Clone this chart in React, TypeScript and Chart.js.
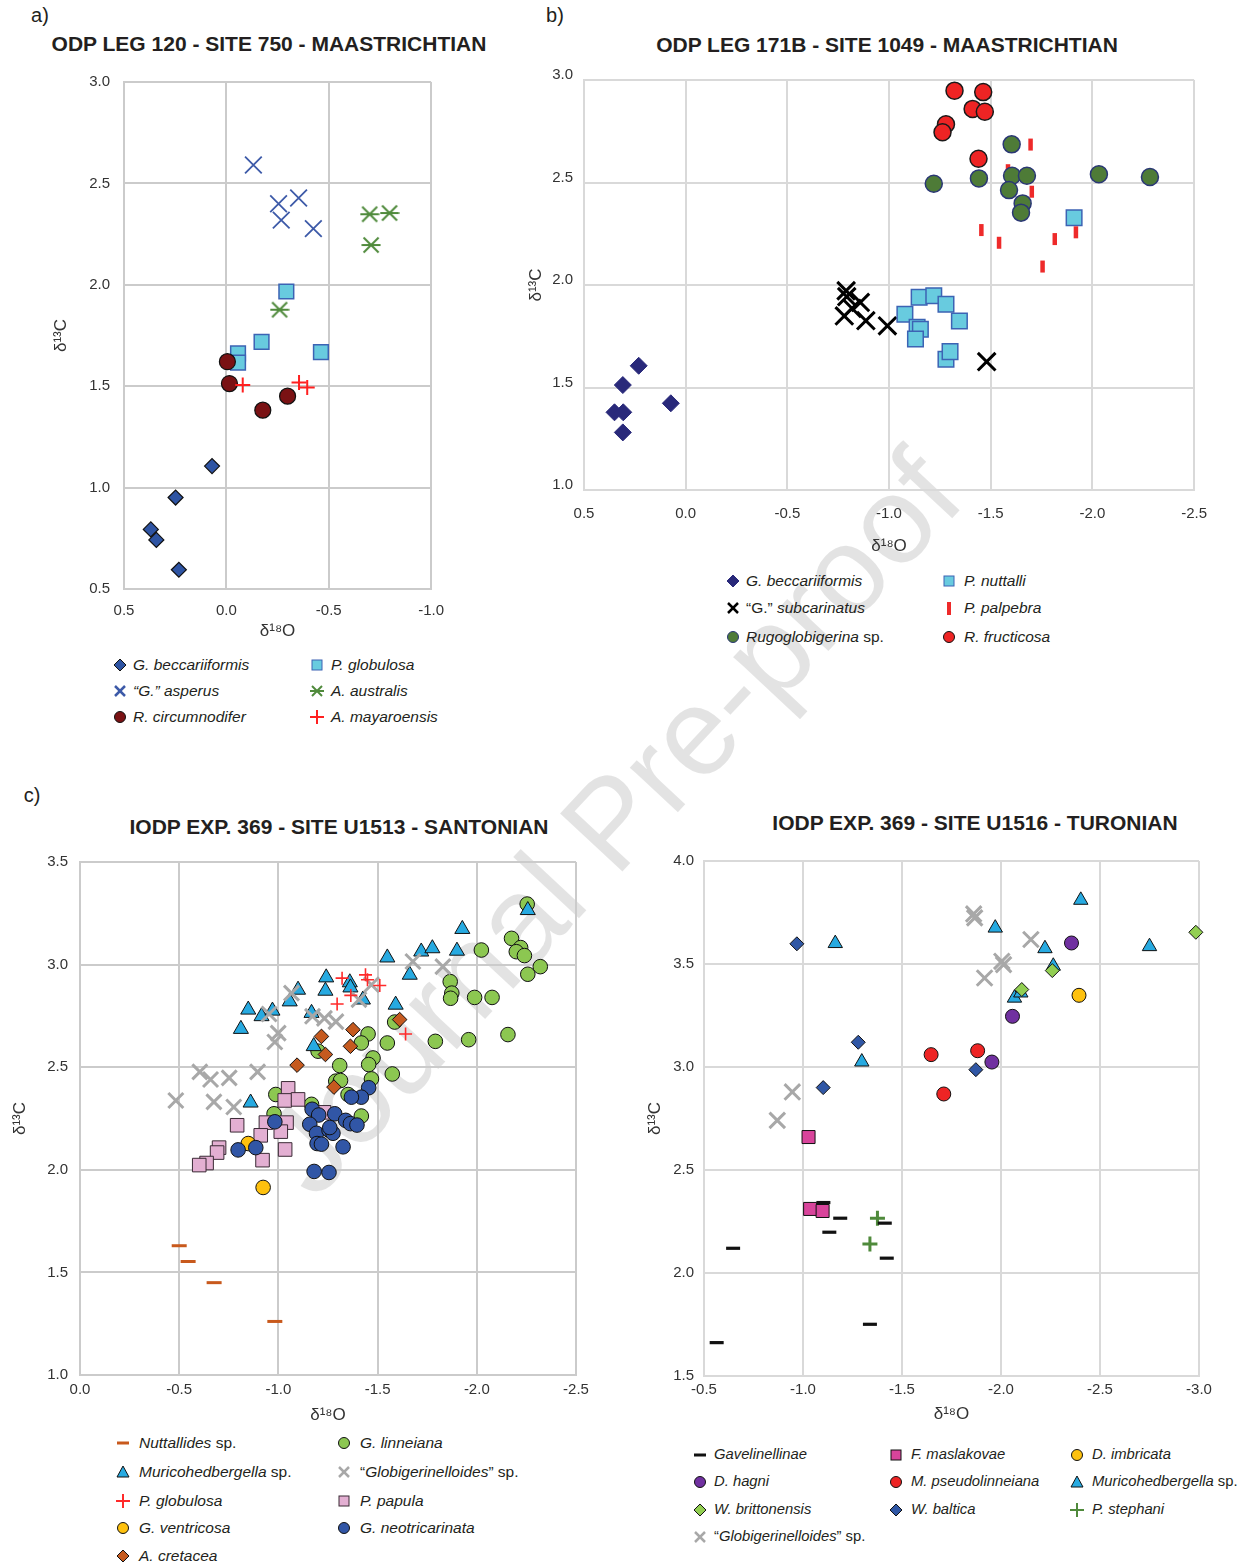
import React, { useEffect, useRef } from "react";
import { Chart, registerables } from "chart.js";
Chart.register(...registerables);

const FONT = '"Liberation Sans", Arial, Helvetica, sans-serif';
Chart.defaults.font.family = FONT;
const TICK = "#333333";
const INK = "#231f20";

type P = [number, number];

// ---------- Panel a: ODP Leg 120 Site 750 ----------
const A_BECCARIIFORMIS: P[] = [[0.07, 1.106], [0.248, 0.951], [0.369, 0.794], [0.342, 0.742], [0.232, 0.595]];
const A_ASPERUS: P[] = [[-0.132, 2.591], [-0.255, 2.4], [-0.268, 2.319], [-0.353, 2.428], [-0.425, 2.277]];
const A_CIRCUMNODIFER: P[] = [[-0.005, 1.621], [-0.015, 1.513], [-0.178, 1.382], [-0.299, 1.451]];
const A_GLOBULOSA: P[] = [[-0.293, 1.967], [-0.172, 1.719], [-0.057, 1.662], [-0.057, 1.616], [-0.462, 1.668]];
const A_AUSTRALIS: P[] = [[-0.7, 2.348], [-0.797, 2.354], [-0.707, 2.196], [-0.26, 1.877]];
const A_MAYAROENSIS: P[] = [[-0.08, 1.506], [-0.355, 1.518], [-0.395, 1.493]];

// ---------- Panel b: ODP Leg 171B Site 1049 ----------
const B_BECCARIIFORMIS: P[] = [[0.231, 1.606], [0.309, 1.512], [0.35, 1.379], [0.307, 1.379], [0.309, 1.281], [0.073, 1.423]];
const B_SUBCARINATUS: P[] = [[-0.789, 1.972], [-0.792, 1.943], [-0.859, 1.915], [-0.78, 1.849], [-0.818, 1.886], [-0.886, 1.826], [-0.992, 1.801], [-1.48, 1.626]];
const B_RUGOGLOBIGERINA: P[] = [[-1.603, 2.686], [-1.22, 2.494], [-1.442, 2.52], [-1.605, 2.533], [-1.678, 2.533], [-1.59, 2.463], [-1.657, 2.398], [-1.649, 2.353], [-2.032, 2.54], [-2.283, 2.527]];
const B_NUTTALLI: P[] = [[-1.148, 1.94], [-1.22, 1.948], [-1.28, 1.906], [-1.078, 1.857], [-1.346, 1.824], [-1.138, 1.794], [-1.154, 1.784], [-1.13, 1.737], [-1.28, 1.638], [-1.3, 1.675], [-1.91, 2.328]];
const B_PALPEBRA: P[] = [[-1.696, 2.685], [-1.585, 2.56], [-1.702, 2.455], [-1.454, 2.268], [-1.541, 2.206], [-1.815, 2.224], [-1.919, 2.257], [-1.755, 2.09]];
const B_FRUCTICOSA: P[] = [[-1.322, 2.948], [-1.463, 2.941], [-1.411, 2.859], [-1.471, 2.845], [-1.28, 2.784], [-1.263, 2.745], [-1.44, 2.616]];

// ---------- Panel c: IODP Exp 369 Site U1513 ----------
const C_NUTTALLIDES: P[] = [[-0.5, 1.63], [-0.545, 1.553], [-0.676, 1.45], [-0.982, 1.261]];
const C_MURICOHEDBERGELLA: P[] = [
  [-1.241, 2.937], [-1.237, 2.872], [-1.099, 2.877], [-1.057, 2.82], [-0.848, 2.78], [-0.915, 2.748],
  [-0.97, 2.775], [-0.811, 2.686], [-1.167, 2.764], [-1.178, 2.602], [-0.86, 2.327], [-1.36, 2.913],
  [-1.363, 2.888], [-1.426, 2.829], [-1.549, 3.034], [-1.72, 3.063], [-1.776, 3.079], [-1.9, 3.067],
  [-1.927, 3.173], [-1.662, 2.95], [-1.591, 2.804], [-2.257, 3.265],
];
const C_GLOBULOSA: P[] = [[-1.321, 2.934], [-1.439, 2.95], [-1.449, 2.926], [-1.511, 2.898], [-1.365, 2.85], [-1.296, 2.808], [-1.641, 2.662]];
const C_VENTRICOSA: P[] = [[-0.848, 2.128], [-0.923, 1.914]];
const C_CRETACEA: P[] = [[-1.376, 2.683], [-1.363, 2.602], [-1.217, 2.65], [-1.237, 2.562], [-1.611, 2.732], [-1.28, 2.403], [-1.094, 2.51]];
const C_LINNEIANA: P[] = [
  [-2.254, 3.295], [-2.175, 3.128], [-2.221, 3.083], [-2.199, 3.063], [-2.24, 3.044], [-2.32, 2.99],
  [-2.257, 2.953], [-2.023, 3.071], [-1.866, 2.917], [-1.874, 2.861], [-1.868, 2.836], [-1.989, 2.84],
  [-2.077, 2.84], [-2.157, 2.659], [-1.959, 2.634], [-1.791, 2.626], [-1.574, 2.467], [-1.549, 2.618],
  [-1.452, 2.662], [-1.418, 2.618], [-1.586, 2.72], [-1.477, 2.545], [-1.455, 2.513], [-1.309, 2.508],
  [-1.289, 2.432], [-1.313, 2.435], [-1.351, 2.367], [-1.469, 2.443], [-1.418, 2.262], [-1.167, 2.319],
  [-1.2, 2.578], [-0.987, 2.367], [-0.978, 2.273],
];
const C_GLOBIGERINELLOIDES: P[] = [
  [-1.066, 2.861], [-0.953, 2.759], [-0.999, 2.666], [-0.982, 2.623], [-0.604, 2.477], [-0.658, 2.44],
  [-0.752, 2.448], [-0.895, 2.477], [-0.483, 2.338], [-0.675, 2.331], [-0.775, 2.306], [-1.172, 2.748],
  [-1.232, 2.738], [-1.29, 2.722], [-1.678, 3.015], [-1.829, 2.99], [-1.406, 2.829], [-1.469, 2.902],
];
const C_PAPULA: P[] = [
  [-1.049, 2.397], [-1.032, 2.338], [-1.099, 2.343], [-0.792, 2.217], [-0.937, 2.23], [-1.041, 2.23],
  [-0.911, 2.168], [-1.012, 2.186], [-0.701, 2.108], [-0.691, 2.084], [-0.638, 2.033], [-0.601, 2.023],
  [-0.92, 2.047], [-1.034, 2.099], [-1.23, 2.28],
];
const C_NEOTRICARINATA: P[] = [
  [-0.797, 2.097], [-0.886, 2.108], [-0.982, 2.234], [-1.17, 2.295], [-1.203, 2.267], [-1.158, 2.222],
  [-1.192, 2.178], [-1.195, 2.128], [-1.217, 2.125], [-1.255, 2.193], [-1.275, 2.178], [-1.284, 2.273],
  [-1.339, 2.241], [-1.363, 2.225], [-1.396, 2.218], [-1.326, 2.112], [-1.18, 1.992], [-1.255, 1.987],
  [-1.455, 2.4], [-1.418, 2.354], [-1.368, 2.354], [-1.259, 2.206],
];

// ---------- Panel d: IODP Exp 369 Site U1516 ----------
const D_GAVELINELLINAE: P[] = [[-1.103, 2.342], [-1.188, 2.266], [-1.413, 2.242], [-1.133, 2.198], [-0.647, 2.12], [-1.423, 2.072], [-1.338, 1.751], [-0.564, 1.662]];
const D_HAGNI: P[] = [[-2.356, 3.602], [-2.058, 3.246], [-1.954, 3.024]];
const D_BRITTONENSIS: P[] = [[-2.984, 3.654], [-2.259, 3.468], [-2.105, 3.376]];
const D_GLOBIGERINELLOIDES: P[] = [[-1.862, 3.743], [-1.867, 3.724], [-2.151, 3.619], [-2.004, 3.513], [-2.013, 3.497], [-1.917, 3.432], [-0.946, 2.879], [-0.87, 2.741]];
const D_MASLAKOVAE: P[] = [[-1.028, 2.66], [-1.036, 2.311], [-1.099, 2.301]];
const D_PSEUDOLINNEIANA: P[] = [[-1.647, 3.06], [-1.711, 2.869], [-1.882, 3.079]];
const D_BALTICA: P[] = [[-0.969, 3.598], [-1.279, 3.12], [-1.102, 2.9], [-1.873, 2.987]];
const D_IMBRICATA: P[] = [[-2.394, 3.348]];
const D_MURICOHEDBERGELLA: P[] = [[-1.163, 3.6], [-1.297, 3.025], [-2.403, 3.81], [-1.971, 3.675], [-2.222, 3.575], [-2.75, 3.585], [-2.264, 3.49], [-2.068, 3.335], [-2.1, 3.36]];
const D_STEPHANI: P[] = [[-1.376, 2.266], [-1.338, 2.141]];

// ---------- helpers ----------
const pts = (a: P[]) => a.map(([x, y]) => ({ x, y }));

function ds(data: P[], style: string | HTMLCanvasElement, radius: number, fill: string, stroke: string, bw: number, rotation = 0) {
  return {
    data: pts(data),
    clip: false,
    pointStyle: style,
    pointRadius: radius,
    pointHoverRadius: radius,
    pointBackgroundColor: fill,
    pointBorderColor: stroke,
    pointBorderWidth: bw,
    pointHoverBorderWidth: bw,
    pointRotation: rotation,
    showLine: false,
  };
}

function makeAsterisk(color: string, size: number, lw: number) {
  const c = document.createElement("canvas");
  c.width = size;
  c.height = size;
  const g = c.getContext("2d")!;
  g.strokeStyle = color;
  g.lineWidth = lw;
  const m = 2.5;
  g.beginPath();
  g.moveTo(m, m);
  g.lineTo(size - m, size - m);
  g.moveTo(size - m, m);
  g.lineTo(m, size - m);
  g.moveTo(0.5, size / 2);
  g.lineTo(size - 0.5, size / 2);
  g.stroke();
  return c;
}

interface PanelSpec {
  left: number;
  top: number;
  yW: number;
  xH: number;
  padTop: number;
  padRight: number;
  plotW: number;
  plotH: number;
  xMin: number;
  xMax: number;
  yMin: number;
  yMax: number;
  yTickPad: number;
  xTickPad: number;
  yTitlePad: number;
  xTitlePad: number;
  yLabelOffset: number;
  gridColor: string;
  datasets: () => any[];
}

const PANEL_A: PanelSpec = {
  left: 40, top: 59, yW: 84, xH: 60, padTop: 20, padRight: 25, plotW: 308, plotH: 510,
  xMin: -1, xMax: 0.5, yMin: 0.5, yMax: 3.0,
  yTickPad: 14, xTickPad: 13, yTitlePad: 11, xTitlePad: 7, yLabelOffset: 0, gridColor: "#cbcbcb",
  datasets: () => [
    ds(A_MAYAROENSIS, "cross", 7.5, "#ff2020", "#ff2020", 2),
    ds(A_CIRCUMNODIFER, "circle", 8, "#7a1214", "#111111", 1.2),
    ds(A_GLOBULOSA, "rect", 10.4, "#68cbdf", "#3c63b4", 1.5),
    ds(A_AUSTRALIS, makeAsterisk("#4f8a3b", 20, 2), 10, "#4f8a3b", "#4f8a3b", 2),
    ds(A_ASPERUS, "crossRot", 11.8, "#3d5aa8", "#3d5aa8", 1.8),
    ds(A_BECCARIIFORMIS, "rectRot", 7.5, "#2e54a3", "#111111", 1.2),
  ],
};

const PANEL_B: PanelSpec = {
  left: 516, top: 60, yW: 68, xH: 70, padTop: 20, padRight: 25, plotW: 613, plotH: 410,
  xMin: -2.5, xMax: 0.5, yMin: 1.0, yMax: 3.0,
  yTickPad: 11, xTickPad: 15, yTitlePad: 10, xTitlePad: 3, yLabelOffset: -5, gridColor: "#d9d9d9",
  datasets: () => [
    ds(B_FRUCTICOSA, "circle", 8.5, "#ee2424", "#1a1a1a", 1.5),
    ds(B_RUGOGLOBIGERINA, "circle", 8.5, "#4e7b37", "#2a3775", 1.5),
    ds(B_PALPEBRA, "line", 6, "#ee2a2a", "#ee2a2a", 4.5, 90),
    ds(B_NUTTALLI, "rect", 11, "#68cbdf", "#3c63b4", 1.5),
    ds(B_SUBCARINATUS, "crossRot", 12.5, "#000000", "#000000", 3),
    ds(B_BECCARIIFORMIS, "rectRot", 8.5, "#29297a", "#29297a", 1),
  ],
};

const PANEL_C: PanelSpec = {
  left: 4, top: 841, yW: 76, xH: 54, padTop: 20, padRight: 25, plotW: 496, plotH: 514,
  xMin: -2.5, xMax: 0.0, yMin: 1.0, yMax: 3.5,
  yTickPad: 12, xTickPad: 6, yTitlePad: 6, xTitlePad: 3, yLabelOffset: 0, gridColor: "#cbcbcb",
  datasets: () => [
    ds(C_GLOBULOSA, "cross", 6.5, "#ff2a2a", "#ff2a2a", 1.6),
    ds(C_GLOBIGERINELLOIDES, "crossRot", 10.6, "#a8a8a8", "#a8a8a8", 3),
    ds(C_NUTTALLIDES, "line", 7.5, "#c8591c", "#c8591c", 3),
    ds(C_CRETACEA, "rectRot", 7.3, "#c55a1f", "#111111", 1),
    ds(C_MURICOHEDBERGELLA, "triangle", 8.7, "#27aae1", "#111111", 1),
    ds(C_NEOTRICARINATA, "circle", 7.3, "#3156a6", "#111111", 1),
    ds(C_VENTRICOSA, "circle", 7.3, "#fec10e", "#111111", 1),
    ds(C_PAPULA, "rect", 9.6, "#e3afd2", "#3a2a35", 1),
    ds(C_LINNEIANA, "circle", 7.3, "#8cc751", "#111111", 1),
  ],
};

const PANEL_D: PanelSpec = {
  left: 639, top: 841, yW: 65, xH: 52, padTop: 20, padRight: 25, plotW: 495, plotH: 515,
  xMin: -3.0, xMax: -0.5, yMin: 1.5, yMax: 4.0,
  yTickPad: 10, xTickPad: 5, yTitlePad: 6, xTitlePad: 3, yLabelOffset: 0, gridColor: "#d9d9d9",
  datasets: () => [
    ds(D_GAVELINELLINAE, "line", 7, "#111111", "#111111", 3.2),
    ds(D_STEPHANI, "cross", 7.5, "#4f8a3b", "#4f8a3b", 3),
    ds(D_GLOBIGERINELLOIDES, "crossRot", 11, "#a8a8a8", "#a8a8a8", 3),
    ds(D_BRITTONENSIS, "rectRot", 7, "#92cf52", "#111111", 1),
    ds(D_BALTICA, "rectRot", 7, "#3057a5", "#111111", 1),
    ds(D_MURICOHEDBERGELLA, "triangle", 8.3, "#27aae1", "#111111", 1),
    ds(D_HAGNI, "circle", 7, "#7030a0", "#111111", 1),
    ds(D_PSEUDOLINNEIANA, "circle", 7, "#ee2424", "#111111", 1),
    ds(D_IMBRICATA, "circle", 7, "#fec10e", "#111111", 1),
    ds(D_MASLAKOVAE, "rect", 9.2, "#d8449b", "#111111", 1),
  ],
};

function Panel({ spec }: { spec: PanelSpec }) {
  const ref = useRef<HTMLCanvasElement | null>(null);
  const w = spec.yW + spec.plotW + spec.padRight;
  const h = spec.padTop + spec.plotH + spec.xH;
  useEffect(() => {
    if (!ref.current) return;
    const tickFont = { family: FONT, size: 15 };
    const titleFont = { family: FONT, size: 17 };
    const fmt = (v: any) => Number(v).toFixed(1);
    const chart = new Chart(ref.current, {
      type: "scatter",
      data: { datasets: spec.datasets() },
      options: {
        responsive: false,
        animation: false,
        events: [],
        layout: { padding: { top: spec.padTop, right: spec.padRight, left: 0, bottom: 0 } },
        plugins: { legend: { display: false }, tooltip: { enabled: false }, title: { display: false } },
        scales: {
          x: {
            type: "linear",
            position: "bottom",
            min: spec.xMin,
            max: spec.xMax,
            reverse: true,
            ticks: { stepSize: 0.5, padding: spec.xTickPad, color: TICK, font: tickFont, maxRotation: 0, autoSkip: false, callback: fmt },
            grid: { color: spec.gridColor, lineWidth: 2, drawTicks: false },
            border: { color: spec.gridColor, width: 2 },
            title: { display: true, text: "δ\u00B9\u2078O", color: TICK, font: titleFont, padding: { top: 0, bottom: spec.xTitlePad } },
            afterFit: (s: any) => {
              s.height = spec.xH;
            },
          },
          y: {
            type: "linear",
            position: "left",
            min: spec.yMin,
            max: spec.yMax,
            ticks: { stepSize: 0.5, padding: spec.yTickPad, labelOffset: spec.yLabelOffset, color: TICK, font: tickFont, autoSkip: false, callback: fmt },
            grid: { color: spec.gridColor, lineWidth: 2, drawTicks: false },
            border: { color: spec.gridColor, width: 2 },
            title: { display: true, text: "δ\u00B9\u00B3C", color: TICK, font: titleFont, padding: { top: spec.yTitlePad, bottom: 0 } },
            afterFit: (s: any) => {
              s.width = spec.yW;
            },
          },
        },
      } as any,
    });
    return () => chart.destroy();
  }, [spec]);
  return (
    <canvas
      ref={ref}
      width={w}
      height={h}
      style={{ position: "absolute", left: spec.left, top: spec.top, width: w, height: h }}
    />
  );
}

// ---------- legends ----------
type Kind = "diamond" | "square" | "circle" | "triangle" | "x" | "plus" | "dash" | "vbar" | "asterisk";
type Piece = [string, boolean];
interface LegItem {
  mx: number;
  tx: number;
  y: number;
  kind: Kind;
  fill: string;
  stroke: string;
  label: Piece[];
}

function Marker({ kind, fill, stroke }: { kind: Kind; fill: string; stroke: string }) {
  let el: any = null;
  switch (kind) {
    case "diamond":
      el = <polygon points="8,2 14,8 8,14 2,8" fill={fill} stroke={stroke} strokeWidth={1} />;
      break;
    case "square":
      el = <rect x={3} y={3} width={10} height={10} fill={fill} stroke={stroke} strokeWidth={1} />;
      break;
    case "circle":
      el = <circle cx={8} cy={8} r={5.5} fill={fill} stroke={stroke} strokeWidth={1} />;
      break;
    case "triangle":
      el = <polygon points="8,2 14,13 2,13" fill={fill} stroke={stroke} strokeWidth={1} />;
      break;
    case "x":
      el = (
        <g stroke={stroke} strokeWidth={2.5}>
          <line x1={3} y1={3} x2={13} y2={13} />
          <line x1={13} y1={3} x2={3} y2={13} />
        </g>
      );
      break;
    case "plus":
      el = (
        <g stroke={stroke} strokeWidth={2}>
          <line x1={1} y1={8} x2={15} y2={8} />
          <line x1={8} y1={1} x2={8} y2={15} />
        </g>
      );
      break;
    case "dash":
      el = <line x1={2} y1={8} x2={14} y2={8} stroke={stroke} strokeWidth={3} />;
      break;
    case "vbar":
      el = <rect x={6} y={2} width={4} height={13} fill={fill} />;
      break;
    case "asterisk":
      el = (
        <g stroke={stroke} strokeWidth={2}>
          <line x1={3} y1={3} x2={13} y2={13} />
          <line x1={13} y1={3} x2={3} y2={13} />
          <line x1={1} y1={8} x2={15} y2={8} />
        </g>
      );
      break;
  }
  return (
    <svg width={16} height={16} viewBox="0 0 16 16" style={{ display: "block" }}>
      {el}
    </svg>
  );
}

const it = (s: string): Piece => [s, true];
const rm = (s: string): Piece => [s, false];

const LEGEND_A: LegItem[] = [
  { mx: 120, tx: 133, y: 665, kind: "diamond", fill: "#2e54a3", stroke: "#111", label: [it("G. beccariiformis")] },
  { mx: 120, tx: 133, y: 691, kind: "x", fill: "none", stroke: "#3d5aa8", label: [it("\u201CG.\u201D asperus")] },
  { mx: 120, tx: 133, y: 717, kind: "circle", fill: "#7a1214", stroke: "#111", label: [it("R. circumnodifer")] },
  { mx: 317, tx: 331, y: 665, kind: "square", fill: "#68cbdf", stroke: "#3c63b4", label: [it("P. globulosa")] },
  { mx: 317, tx: 331, y: 691, kind: "asterisk", fill: "none", stroke: "#4f8a3b", label: [it("A. australis")] },
  { mx: 317, tx: 331, y: 717, kind: "plus", fill: "none", stroke: "#ff2020", label: [it("A. mayaroensis")] },
];

const LEGEND_B: LegItem[] = [
  { mx: 733, tx: 746, y: 581, kind: "diamond", fill: "#29297a", stroke: "#29297a", label: [it("G. beccariiformis")] },
  { mx: 733, tx: 746, y: 608, kind: "x", fill: "none", stroke: "#000", label: [rm("\u201CG.\u201D "), it("subcarinatus")] },
  { mx: 733, tx: 746, y: 637, kind: "circle", fill: "#4e7b37", stroke: "#2a3775", label: [it("Rugoglobigerina"), rm(" sp.")] },
  { mx: 949, tx: 964, y: 581, kind: "square", fill: "#68cbdf", stroke: "#3c63b4", label: [it("P. nuttalli")] },
  { mx: 949, tx: 964, y: 608, kind: "vbar", fill: "#ee2a2a", stroke: "#ee2a2a", label: [it("P. palpebra")] },
  { mx: 949, tx: 964, y: 637, kind: "circle", fill: "#ee2424", stroke: "#111", label: [it("R. fructicosa")] },
];

const LEGEND_C: LegItem[] = [
  { mx: 123, tx: 139, y: 1443, kind: "dash", fill: "none", stroke: "#c8591c", label: [it("Nuttallides"), rm(" sp.")] },
  { mx: 123, tx: 139, y: 1472, kind: "triangle", fill: "#27aae1", stroke: "#111", label: [it("Muricohedbergella"), rm(" sp.")] },
  { mx: 123, tx: 139, y: 1501, kind: "plus", fill: "none", stroke: "#ff2a2a", label: [it("P. globulosa")] },
  { mx: 123, tx: 139, y: 1528, kind: "circle", fill: "#fec10e", stroke: "#111", label: [it("G. ventricosa")] },
  { mx: 123, tx: 139, y: 1556, kind: "diamond", fill: "#c55a1f", stroke: "#111", label: [it("A. cretacea")] },
  { mx: 344, tx: 360, y: 1443, kind: "circle", fill: "#8cc751", stroke: "#111", label: [it("G. linneiana")] },
  { mx: 344, tx: 360, y: 1472, kind: "x", fill: "none", stroke: "#a8a8a8", label: [rm("\u201C"), it("Globigerinelloides"), rm("\u201D sp.")] },
  { mx: 344, tx: 360, y: 1501, kind: "square", fill: "#e3afd2", stroke: "#3a2a35", label: [it("P. papula")] },
  { mx: 344, tx: 360, y: 1528, kind: "circle", fill: "#3156a6", stroke: "#111", label: [it("G. neotricarinata")] },
];

const LEGEND_D: LegItem[] = [
  { mx: 700, tx: 714, y: 1455, kind: "dash", fill: "none", stroke: "#111", label: [it("Gavelinellinae")] },
  { mx: 700, tx: 714, y: 1482, kind: "circle", fill: "#7030a0", stroke: "#111", label: [it("D. hagni")] },
  { mx: 700, tx: 714, y: 1510, kind: "diamond", fill: "#92cf52", stroke: "#111", label: [it("W. brittonensis")] },
  { mx: 700, tx: 714, y: 1537, kind: "x", fill: "none", stroke: "#a8a8a8", label: [rm("\u201C"), it("Globigerinelloides"), rm("\u201D sp.")] },
  { mx: 896, tx: 911, y: 1455, kind: "square", fill: "#d8449b", stroke: "#111", label: [it("F. maslakovae")] },
  { mx: 896, tx: 911, y: 1482, kind: "circle", fill: "#ee2424", stroke: "#111", label: [it("M. pseudolinneiana")] },
  { mx: 896, tx: 911, y: 1510, kind: "diamond", fill: "#3057a5", stroke: "#111", label: [it("W. baltica")] },
  { mx: 1077, tx: 1092, y: 1455, kind: "circle", fill: "#fec10e", stroke: "#111", label: [it("D. imbricata")] },
  { mx: 1077, tx: 1092, y: 1482, kind: "triangle", fill: "#27aae1", stroke: "#111", label: [it("Muricohedbergella"), rm(" sp.")] },
  { mx: 1077, tx: 1092, y: 1510, kind: "plus", fill: "none", stroke: "#4f8a3b", label: [it("P. stephani")] },
];

function Legend({ items, size }: { items: LegItem[]; size: number }) {
  return (
    <>
      {items.map((li, i) => (
        <React.Fragment key={i}>
          <div style={{ position: "absolute", left: li.mx - 8, top: li.y - 8 }}>
            <Marker kind={li.kind} fill={li.fill} stroke={li.stroke} />
          </div>
          <div
            style={{
              position: "absolute",
              left: li.tx,
              top: li.y,
              transform: "translateY(-50%)",
              fontSize: size,
              lineHeight: 1.2,
              color: INK,
              whiteSpace: "nowrap",
            }}
          >
            {li.label.map((p, j) => (
              <span key={j} style={{ fontStyle: p[1] ? "italic" : "normal" }}>
                {p[0]}
              </span>
            ))}
          </div>
        </React.Fragment>
      ))}
    </>
  );
}

function Text({ x, y, children, size, bold }: { x: number; y: number; children: any; size: number; bold?: boolean }) {
  return (
    <div
      style={{
        position: "absolute",
        left: x,
        top: y,
        transform: "translate(-50%, -50%)",
        fontSize: size,
        fontWeight: bold ? 700 : 400,
        color: INK,
        whiteSpace: "nowrap",
        lineHeight: 1.2,
      }}
    >
      {children}
    </div>
  );
}

export default function App() {
  return (
    <div
      style={{
        position: "absolute",
        left: 0,
        top: 0,
        width: 1247,
        height: 1566,
        background: "#ffffff",
        fontFamily: FONT,
        overflow: "hidden",
      }}
    >
      <div
        style={{
          position: "absolute",
          left: 610,
          top: 822,
          transform: "translate(-50%, -50%) rotate(-47deg)",
          fontSize: 124,
          lineHeight: 1,
          color: "rgba(0,0,0,0.11)",
          whiteSpace: "nowrap",
        }}
      >
        Journal Pre-proof
      </div>

      <Text x={40} y={15} size={20}>a)</Text>
      <Text x={555} y={15} size={20}>b)</Text>
      <Text x={32} y={795} size={20}>c)</Text>

      <Text x={269} y={44} size={21} bold>ODP LEG 120 - SITE 750 - MAASTRICHTIAN</Text>
      <Text x={887} y={45} size={21} bold>ODP LEG 171B - SITE 1049 - MAASTRICHTIAN</Text>
      <Text x={339} y={827} size={21} bold>IODP EXP. 369 - SITE U1513 - SANTONIAN</Text>
      <Text x={975} y={823} size={21} bold>IODP EXP. 369 - SITE U1516 - TURONIAN</Text>

      <Panel spec={PANEL_A} />
      <Panel spec={PANEL_B} />
      <Panel spec={PANEL_C} />
      <Panel spec={PANEL_D} />

      <Legend items={LEGEND_A} size={15.5} />
      <Legend items={LEGEND_B} size={15.5} />
      <Legend items={LEGEND_C} size={15.5} />
      <Legend items={LEGEND_D} size={14.8} />
    </div>
  );
}
